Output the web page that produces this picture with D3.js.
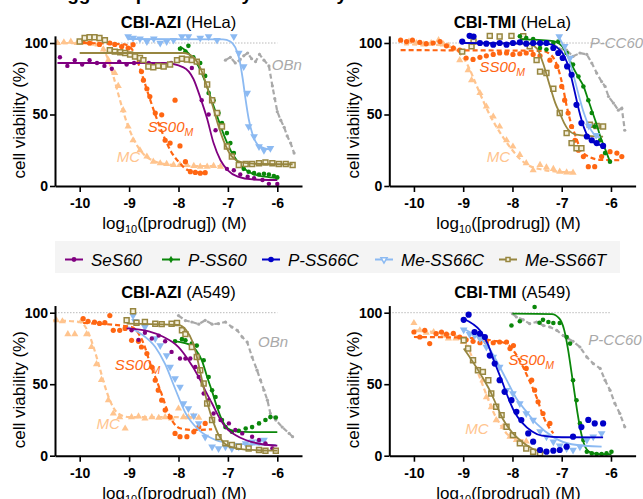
<!DOCTYPE html>
<html>
<head>
<meta charset="utf-8">
<script src="https://cdn.jsdelivr.net/npm/d3@7"></script>
<style>
  body { margin: 0; background: #fff; }
  svg { display: block; font-family: "Liberation Sans", Arial, Helvetica, sans-serif; }
</style>
</head>
<body>
<svg id="chart" width="643" height="499"></svg>
<script>
// ---- axis / text values ----
const xTicks = [-10, -9, -8, -7, -6];
const yTicks = [0, 50, 100];
const legendNames = ['SeS60', 'P-SS60', 'P-SS66C', 'Me-SS66C', 'Me-SS66T'];

// ---- CBI-AZI (HeLa) ----
const helaAziSeS60 = [[-10.4,90],[-10.25,84],[-10.1,88],[-9.95,85],[-9.8,88],[-9.65,86],[-9.5,84],[-9.35,82],[-9.2,87],[-9.05,85],[-8.9,86],[-8.75,87],[-8.6,86],[-8.45,85],[-8.3,85],[-8.15,86],[-7.73,82.5],[-7.53,60],[-7.39,50],[-7.25,39],[-7.02,12],[-6.88,11],[-6.75,8],[-6.6,6.5],[-6.47,5.4],[-6.3,4.2],[-6.17,1.5],[-6.0,1.4]];
const helaAziSeS60Fit = [[-10.45,86],[-8.3,86],[-7.9,83],[-7.7,75],[-7.56,62],[-7.42,47],[-7.29,30],[-7.15,18],[-7.0,11],[-6.8,6.5],[-6.5,4.6],[-6.0,4.2]];
const helaAziPSS60 = [[-7.97,96],[-7.86,94],[-7.8,98],[-7.7,90],[-7.56,86],[-7.46,77],[-7.39,65],[-7.29,60],[-7.19,51],[-7.12,44],[-7.02,37],[-6.95,30],[-6.88,23],[-6.78,16],[-6.68,12],[-6.58,10],[-6.47,9],[-6.37,8],[-6.27,8.5],[-6.17,8],[-6.07,7],[-6.0,6]];
const helaAziPSS60Fit = [[-7.97,97.5],[-7.8,93],[-7.6,84],[-7.45,72],[-7.3,57],[-7.2,47],[-7.05,33],[-6.9,22],[-6.7,13],[-6.5,8.5],[-6.25,6.5],[-6.0,5.5]];
const helaAziMeSS66C = [[-9.02,104.5],[-8.92,103.5],[-8.78,103],[-8.64,101],[-8.5,103],[-8.37,100],[-8.24,101],[-8.1,102],[-7.93,104.5],[-7.8,104.5],[-7.56,103.5],[-7.39,104.5],[-7.22,102],[-6.88,104.5],[-6.78,93],[-6.68,83.6],[-6.61,65],[-6.58,41.6],[-6.47,34.6],[-6.37,27.6],[-6.27,25],[-6.14,26.4]];
const helaAziMeSS66CFit = [[-9.02,102.8],[-7.1,102.6],[-6.95,101],[-6.85,97],[-6.77,89],[-6.7,75],[-6.64,60],[-6.58,47],[-6.5,36],[-6.4,29],[-6.27,26.5],[-6.14,25.5]];
const helaAziMeSS66T = [[-10,101],[-9.9,103.5],[-9.8,104],[-9.7,104],[-9.6,103.5],[-9.49,102],[-9.39,95],[-9.29,94],[-9.18,93.5],[-9.08,93],[-8.98,92],[-8.88,90.6],[-8.78,89.5],[-8.71,88],[-8.61,83.6],[-8.51,83],[-8.41,84],[-8.3,83.6],[-8.17,85],[-8.03,88],[-7.93,89],[-7.83,88.5],[-7.73,88],[-7.63,87],[-7.53,80],[-7.42,71],[-7.32,60],[-7.22,51],[-7.12,41.6],[-7.02,27.6],[-6.92,20.6],[-6.78,14.7],[-6.64,15.4],[-6.51,15.4],[-6.37,15.9],[-6.24,16.4],[-6.1,15.9],[-5.97,15.4],[-5.83,15.4],[-5.69,14.7]];
const helaAziMeSS66TFit = [[-10,93],[-7.9,93],[-7.7,90],[-7.55,82],[-7.42,69],[-7.3,55],[-7.2,43],[-7.08,31],[-6.95,22],[-6.8,17.5],[-6.5,15.6],[-5.69,15.2]];
const helaAziSS00M = [[-9.94,101],[-9.8,100],[-9.6,99],[-9.39,100],[-9.29,99],[-9.15,97.5],[-9.02,96.5],[-8.92,98.8],[-8.75,80],[-8.71,74],[-8.64,68],[-8.58,62.6],[-8.47,51],[-8.34,49.8],[-8.27,32],[-8.17,30],[-8.07,60],[-7.97,28],[-7.86,17],[-7.76,10],[-7.66,9.5],[-7.56,9],[-7.46,9.3]];
const helaAziSS00MFit = [[-9.94,100],[-9.1,99],[-8.95,96],[-8.85,89],[-8.72,76],[-8.58,61],[-8.45,48],[-8.3,35],[-8.15,24],[-8.0,17],[-7.8,11],[-7.46,9]];
const helaAziMC = [[-10.45,100],[-10.32,100.5],[-10.18,101],[-10.05,100],[-9.9,100.5],[-9.76,99.5],[-9.63,99],[-9.52,95.5],[-9.42,88],[-9.29,79],[-9.22,70],[-9.12,53],[-9.02,41.6],[-8.92,32],[-8.78,25],[-8.64,20.6],[-8.51,17],[-8.37,15.9],[-8.24,15.4],[-8.1,14.7],[-7.97,14.7],[-7.83,14.7],[-7.69,14],[-7.56,13.5],[-7.42,13.5],[-7.29,14],[-7.15,13.5]];
const helaAziMCFit = [[-10.5,100],[-9.7,99.5],[-9.55,97],[-9.43,89],[-9.32,77],[-9.2,62],[-9.1,50],[-9.0,40],[-8.85,29],[-8.7,22],[-8.5,17.5],[-8.2,15],[-7.8,14],[-7.15,14]];
const helaAziOBn = [[-7.05,88],[-6.95,90],[-6.85,86],[-6.76,88],[-6.68,91],[-6.6,93],[-6.52,89],[-6.44,87],[-6.36,92],[-6.27,88],[-6.17,84],[-6.1,70],[-6.05,61],[-6.0,52],[-5.93,46],[-5.86,41],[-5.8,35],[-5.73,30],[-5.66,23]];

// ---- CBI-TMI (HeLa) ----
const helaTmiPSS66C = [[-9.02,101],[-8.87,105],[-8.79,104.5],[-8.66,100],[-8.53,99.5],[-8.39,98.8],[-8.26,100],[-8.12,98.8],[-7.99,100],[-7.85,100.5],[-7.72,99.5],[-7.58,100],[-7.44,100],[-7.31,100],[-7.17,96.5],[-7.07,93],[-6.98,89.5],[-6.89,83.6],[-6.8,77.8],[-6.7,56.8],[-6.6,44],[-6.49,34.6],[-6.39,32],[-6.29,30],[-6.16,28]];
const helaTmiPSS66CFit = [[-9.02,100],[-7.3,99.5],[-7.1,97],[-6.95,91],[-6.85,82],[-6.75,68],[-6.65,53],[-6.55,41],[-6.45,33.5],[-6.3,29.5],[-6.15,28.3]];
const helaTmiPSS60 = [[-7.85,104.7],[-7.72,103.5],[-7.58,102.8],[-7.44,96.5],[-7.31,95.5],[-7.17,100],[-7.07,101],[-6.9,93],[-6.77,85],[-6.66,76.6],[-6.56,69.6],[-6.46,60],[-6.39,51],[-6.33,41.6],[-6.22,32],[-6.12,23],[-6.02,17]];
const helaTmiPSS60Fit = [[-7.85,102.5],[-7.2,101.5],[-7.0,98],[-6.88,91],[-6.77,83],[-6.66,76],[-6.56,70],[-6.47,61],[-6.39,53],[-6.3,44],[-6.22,35],[-6.12,26],[-6.02,17]];
const helaTmiMeSS66C = [[-7.05,104.5],[-6.94,97.7],[-6.83,89.5],[-6.45,42],[-6.3,35.5]];
const helaTmiMeSS66CFit = [[-7.07,105],[-6.95,97],[-6.85,88],[-6.75,76],[-6.65,63],[-6.55,51],[-6.45,42],[-6.35,36.5],[-6.22,34]];
const helaTmiMeSS66T = [[-9.02,94],[-8.83,97.7],[-8.79,101],[-8.46,105],[-8.26,104.5],[-8.02,105],[-7.78,104.7],[-7.65,97.7],[-7.51,88],[-7.44,80],[-7.31,79],[-7.17,68],[-7.04,51],[-6.9,37],[-6.8,30],[-6.7,26.4],[-6.6,26.4],[-6.43,42.8],[-6.29,42],[-6.16,41.6]];
const helaTmiMeSS66TFit = [[-9.02,100],[-7.7,99.5],[-7.5,96],[-7.38,86],[-7.24,70],[-7.13,58],[-7.04,51],[-6.95,44],[-6.87,39.5],[-6.7,36],[-6.16,34.5]];
const helaTmiSS00M = [[-10.27,102],[-10.15,101],[-10.03,102],[-9.88,100.5],[-9.75,99.5],[-9.61,100],[-9.47,101],[-9.34,98],[-9.2,96.5],[-9.07,95],[-8.94,89.5],[-8.8,88.5],[-8.66,90],[-8.53,91],[-8.39,92],[-8.26,93],[-8.12,93],[-7.99,92],[-7.85,92.5],[-7.72,93],[-7.58,92],[-7.44,91],[-7.24,88],[-7.1,83.6],[-7.0,69.6],[-6.94,60],[-6.87,51],[-6.8,41.6],[-6.73,32],[-6.66,25],[-6.56,20.6],[-6.46,13.5],[-6.33,13.5],[-6.19,20.6],[-6.02,24],[-5.88,23],[-5.78,20.6]];
const helaTmiSS00MFit = [[-10.27,95],[-7.4,94.5],[-7.2,91],[-7.08,83],[-6.98,70],[-6.9,56],[-6.82,45],[-6.72,35],[-6.62,26],[-6.45,20.5],[-6.2,18.3],[-5.78,18]];
const helaTmiMC = [[-10.1,101],[-9.95,100],[-9.8,99],[-9.65,100],[-9.5,102],[-9.4,99],[-9.3,98],[-9.2,96],[-9.07,88],[-8.9,81],[-8.83,74],[-8.66,65],[-8.53,55.6],[-8.39,48.6],[-8.26,41.6],[-8.12,32],[-7.99,27.6],[-7.85,21.7],[-7.72,16],[-7.58,11],[-7.44,14.7],[-7.31,13],[-7.17,12],[-7.04,10],[-6.9,9.5],[-6.77,9.3]];
const helaTmiMCFit = [[-10.2,99],[-9.4,98.5],[-9.2,97],[-9.05,92],[-8.9,84],[-8.75,72],[-8.6,60],[-8.45,49],[-8.3,40],[-8.15,32],[-8.0,25],[-7.85,19],[-7.65,14],[-7.4,11.5],[-7.1,10],[-6.77,9.5]];
const helaTmiPCC60 = [[-7.17,99],[-7.05,96],[-6.9,95],[-6.77,90.6],[-6.63,93],[-6.49,92],[-6.39,86],[-6.29,79],[-6.19,73],[-6.12,69.6],[-6.05,62.6],[-5.95,58],[-5.85,53],[-5.78,54.4],[-5.72,39]];

// ---- CBI-AZI (A549) ----
const a549AziSeS60 = [[-8.95,87.7],[-8.81,81],[-8.68,86],[-8.54,82],[-8.4,84],[-8.27,80],[-8.14,72.6],[-7.97,68],[-7.86,68],[-7.76,68],[-7.66,62],[-7.59,55],[-7.49,43.5],[-7.39,38.8],[-7.29,29.5],[-7.15,25],[-6.98,22.6],[-6.85,18],[-6.71,15.6],[-6.51,13.3],[-6.37,11],[-6.24,8.6],[-6.1,5],[-6.03,3.5]];
const a549AziSeS60Fit = [[-9.05,89],[-8.6,87],[-8.3,83],[-8.0,76],[-7.8,67],[-7.59,55],[-7.45,45],[-7.32,36.5],[-7.18,27],[-7.05,20],[-6.85,14.5],[-6.64,11],[-6.3,8],[-6.0,7]];
const a549AziPSS60 = [[-8.07,80],[-7.93,81.5],[-7.86,80.7],[-7.73,78.4],[-7.63,77],[-7.49,66.7],[-7.39,55],[-7.32,45.8],[-7.25,41],[-7.19,34],[-7.12,25],[-7.05,20],[-6.92,16.7],[-6.78,17.5],[-6.64,19],[-6.51,20],[-6.37,22.6],[-6.24,25],[-6.14,27],[-6.03,26.7]];
const a549AziPSS60Fit = [[-8.07,80],[-7.8,78],[-7.65,74],[-7.52,66],[-7.42,55],[-7.32,45],[-7.22,34],[-7.12,25],[-7.0,19],[-6.85,17],[-6.5,16.5],[-6.0,16.5]];
const a549AziMeSS66C = [[-8.92,98],[-8.88,94],[-8.68,90],[-8.47,82],[-8.37,77],[-8.24,70],[-8.17,62],[-8.07,54],[-7.97,48],[-7.9,36.5],[-7.8,33],[-7.69,28],[-7.59,22.6],[-7.46,13],[-7.32,6.3],[-7.19,5],[-7.05,6.3],[-6.92,5],[-6.78,6.3],[-6.64,8.6],[-6.51,9.8],[-6.37,9.8],[-6.27,11]];
const a549AziMeSS66CFit = [[-9.02,90],[-8.75,85],[-8.47,76],[-8.27,64],[-8.07,47],[-7.86,30],[-7.59,18],[-7.25,11],[-6.92,8.6],[-6.58,8],[-6.03,7.5]];
const a549AziMeSS66T = [[-9.05,94.7],[-8.92,101],[-8.85,93],[-8.68,93.5],[-8.47,92.3],[-8.34,92],[-8.14,92.3],[-8.03,92.8],[-7.93,87.7],[-7.86,85],[-7.73,76],[-7.63,69],[-7.56,59.8],[-7.49,50.5],[-7.42,36.5],[-7.32,25],[-7.19,13],[-7.05,8.6],[-6.92,7.5],[-6.78,6.3],[-6.58,5],[-6.37,4],[-6.24,3.5],[-6.03,3.5]];
const a549AziMeSS66TFit = [[-9.05,92.3],[-8.0,91.4],[-7.85,88],[-7.72,80],[-7.62,68],[-7.55,57],[-7.48,46],[-7.4,35],[-7.3,24],[-7.18,14],[-7.05,8],[-6.8,5],[-6.4,3.8],[-6.0,3.5]];
const a549AziSS00M = [[-9.93,95.8],[-9.83,94],[-9.7,93.5],[-9.6,92.5],[-9.49,93],[-9.39,98],[-9.32,87.7],[-9.19,87.7],[-9.08,89],[-8.95,80.7],[-8.81,80],[-8.75,76],[-8.64,71.4],[-8.54,62],[-8.47,52.8],[-8.41,45.8],[-8.34,38.8],[-8.27,31.9],[-8.17,27],[-8.07,15.6],[-7.97,13.3],[-7.83,13.3],[-7.69,16.7],[-7.59,20],[-7.46,22.6]];
const a549AziSS00MFit = [[-9.93,92.8],[-8.95,90],[-8.8,85],[-8.68,76],[-8.58,65],[-8.47,55],[-8.34,43],[-8.22,31],[-8.1,23],[-7.95,19],[-7.7,18],[-7.32,18.5]];
const a549AziMC = [[-10.47,94.7],[-10.35,94],[-10.24,85],[-10.1,85],[-9.97,94],[-9.86,85],[-9.76,76],[-9.66,64],[-9.56,53],[-9.42,38.8],[-9.32,29.5],[-9.19,27],[-9.08,19],[-8.95,27],[-8.81,27.5],[-8.68,26],[-8.54,27],[-8.4,26.5],[-8.27,27],[-8.14,26],[-8.0,33],[-7.9,27],[-7.8,27],[-7.7,27.5],[-7.59,26.5]];
const a549AziMCFit = [[-10.54,94.7],[-10.0,93.5],[-9.85,88],[-9.72,76],[-9.6,62],[-9.49,48.6],[-9.38,38],[-9.22,29.5],[-9.0,27],[-8.5,27],[-7.59,27]];
const a549AziOBn = [[-8.0,98],[-7.86,94.5],[-7.73,93.5],[-7.59,92],[-7.46,94.7],[-7.32,92],[-7.19,92.3],[-7.05,93.5],[-6.92,90],[-6.81,87.7],[-6.71,83],[-6.61,79.5],[-6.51,69],[-6.41,59.8],[-6.34,52.8],[-6.27,45.8],[-6.2,38.8],[-6.14,29.5],[-6.03,24.9],[-5.9,20],[-5.76,15.6],[-5.69,13.3]];

// ---- CBI-TMI (A549) ----
const a549TmiPSS66C = [[-8.99,95],[-8.89,98.6],[-8.77,86.5],[-8.66,85.3],[-8.56,83],[-8.46,70],[-8.36,64.4],[-8.26,52.8],[-8.16,44.7],[-8.02,38.8],[-7.92,30.7],[-7.82,24.9],[-7.68,15.6],[-7.58,9.8],[-7.44,4],[-7.31,2.8],[-7.17,3.5],[-7.04,4],[-6.9,6.3],[-6.77,13.3],[-6.6,20],[-6.46,25],[-6.33,22.6],[-6.16,22.6]];
const a549TmiPSS66CFit = [[-8.99,95.8],[-8.8,92],[-8.66,87.7],[-8.5,78],[-8.36,65],[-8.22,52.8],[-8.08,40],[-7.95,30],[-7.8,23],[-7.6,17],[-7.4,14],[-7.0,12.9],[-6.16,12.8]];
const a549TmiPSS60 = [[-8.02,91],[-7.85,94],[-7.55,104],[-7.45,93],[-7.38,95],[-7.27,93.5],[-7.17,92.8],[-7.04,92.8],[-6.9,83],[-6.83,78.4],[-6.77,52.8],[-6.7,38.8],[-6.63,22.6],[-6.56,11],[-6.49,2.8],[-6.39,1.6],[-6.29,1.2],[-6.19,1.2],[-6.09,1.6],[-5.99,2.8]];
const a549TmiPSS60Fit = [[-8.0,99.3],[-7.2,99],[-7.05,96],[-6.95,88],[-6.87,74],[-6.8,58],[-6.74,44],[-6.68,30],[-6.6,15],[-6.52,6],[-6.4,2],[-6.2,1],[-5.99,1]];
const a549TmiMeSS66C = [[-8.99,88],[-8.87,85],[-8.77,84],[-8.66,82],[-8.53,76],[-8.39,69],[-8.26,62],[-8.12,45.8],[-7.99,43.5],[-7.85,36.5],[-7.72,29.5],[-7.58,24.9],[-7.44,17],[-7.31,13.3],[-7.17,9.8],[-7.04,7],[-6.9,5],[-6.77,4],[-6.63,6.3],[-6.49,11],[-6.36,13.3],[-6.19,15.6]];
const a549TmiMeSS66CFit = [[-8.99,88.8],[-8.75,84],[-8.53,78],[-8.35,68],[-8.12,53],[-7.92,40],[-7.72,31],[-7.5,22],[-7.17,13],[-6.8,8],[-6.19,6.3]];
const a549TmiMeSS66T = [[-8.99,80.7],[-8.9,75],[-8.8,66.7],[-8.7,59.8],[-8.6,58.6],[-8.49,52.8],[-8.43,43.5],[-8.33,34.2],[-8.22,28.4],[-8.12,20.2],[-7.99,14.4],[-7.85,8.6],[-7.72,5],[-7.58,2.8],[-7.44,1.6]];
const a549TmiMeSS66TFit = [[-8.99,75],[-8.85,68],[-8.7,60],[-8.58,53],[-8.45,45],[-8.32,35],[-8.2,26],[-8.0,16],[-7.85,11],[-7.6,5],[-7.31,2]];
const a549TmiSS00M = [[-10,86.5],[-9.88,83],[-9.78,87.7],[-9.68,78.4],[-9.55,85.3],[-9.44,86.5],[-9.34,85],[-9.2,85.5],[-9.07,83],[-8.94,81],[-8.8,80],[-8.66,79],[-8.53,79.5],[-8.39,79],[-8.26,79.5],[-8.12,79.5],[-8.05,74.9],[-7.98,77],[-7.72,61],[-7.61,52.8],[-7.55,45.8],[-7.48,37.7],[-7.38,29.5],[-7.24,22.6]];
const a549TmiSS00MFit = [[-10,83],[-8.9,82.5],[-8.4,80.5],[-8.12,78.4],[-7.95,72],[-7.8,63],[-7.65,52],[-7.5,40],[-7.38,28],[-7.26,20],[-7.17,15.6]];
const a549TmiMC = [[-10,92.8],[-9.88,87.7],[-9.75,86],[-9.6,86.5],[-9.41,84],[-9.3,82],[-9.15,82],[-9.0,79.5],[-8.9,75],[-8.8,66.7],[-8.7,59.8],[-8.6,52.8],[-8.53,41],[-8.43,34],[-8.33,24.9],[-8.19,20.2],[-8.05,13.3],[-7.92,11],[-7.72,10]];
const a549TmiMCFit = [[-10,87.7],[-9.4,85.5],[-9.07,83],[-8.95,78],[-8.82,69],[-8.7,58],[-8.6,49],[-8.5,40],[-8.38,30],[-8.25,22],[-8.12,15.6],[-7.95,12],[-7.72,10.5]];
const a549TmiPCC60 = [[-8.0,99.3],[-7.92,97],[-7.78,95],[-7.65,92.3],[-7.51,93.5],[-7.37,91],[-7.24,90],[-7.1,87.7],[-6.97,84],[-6.87,81.9],[-6.77,80],[-6.63,76],[-6.49,69],[-6.36,64.4],[-6.22,61],[-6.12,52.8],[-6.02,45.8],[-5.92,36.5],[-5.82,29.5],[-5.72,20.2]];

// ---- look of each compound ----
const styles = {
  'SeS60':    { color: '#800080', marker: 'circle', size: 2.2 },
  'P-SS60':   { color: '#0a870a', marker: 'circle', size: 2.3 },
  'P-SS66C':  { color: '#0000c8', marker: 'circle', size: 3.1 },
  'Me-SS66C': { color: '#8cbaf2', marker: 'triDown', size: 26 },
  'Me-SS66T': { color: '#978640', marker: 'square', size: 24 },
  'SS00M':    { color: '#ff6612', marker: 'circle', size: 2.6, dashed: true },
  'MC':       { color: '#ffc48e', marker: 'triUp', size: 22, dashed: true },
  'gray':     { color: '#a9a9a9', marker: 'circle', size: 1.6, dashed: true }
};
// smaller markers used in the legend key
const legendMarker = {
  'SeS60':    { marker: 'circle', size: 2.4 },
  'P-SS60':   { marker: 'diamond', size: 16 },
  'P-SS66C':  { marker: 'circle', size: 2.8 },
  'Me-SS66C': { marker: 'triDownOpen', size: 16 },
  'Me-SS66T': { marker: 'square', size: 16 }
};

const svg = d3.select('#chart');
const font = '"Liberation Sans", Arial, Helvetica, sans-serif';

// partially cropped figure heading
svg.append('text')
  .attr('x', 44).attr('y', 0)
  .attr('font-size', 19).attr('font-weight', 'bold')
  .text('Triggered potencies by cell assay');

const panels = [
  { title: 'CBI-AZI', cell: '(HeLa)', left: 55, right: 302, bottom: 186,
    ref: { name: 'OBn', data: helaAziOBn, label: [-6.11, 81] },
    mc: [helaAziMC, helaAziMCFit, [-9.25, 16.8]],
    ss00: [helaAziSS00M, helaAziSS00MFit, [-8.62, 37.8]],
    series: [['SeS60', helaAziSeS60, helaAziSeS60Fit], ['Me-SS66C', helaAziMeSS66C, helaAziMeSS66CFit],
             ['P-SS60', helaAziPSS60, helaAziPSS60Fit], ['Me-SS66T', helaAziMeSS66T, helaAziMeSS66TFit]] },
  { title: 'CBI-TMI', cell: '(HeLa)', left: 389.3, right: 635.6, bottom: 186,
    ref: { name: 'P-CC60', data: helaTmiPCC60, label: [-6.43, 96.4] },
    mc: [helaTmiMC, helaTmiMCFit, [-8.52, 16.8]],
    ss00: [helaTmiSS00M, helaTmiSS00MFit, [-8.67, 79.9]],
    series: [['Me-SS66T', helaTmiMeSS66T, helaTmiMeSS66TFit], ['P-SS60', helaTmiPSS60, helaTmiPSS60Fit],
             ['Me-SS66C', helaTmiMeSS66C, helaTmiMeSS66CFit], ['P-SS66C', helaTmiPSS66C, helaTmiPSS66CFit]] },
  { title: 'CBI-AZI', cell: '(A549)', left: 55, right: 302, bottom: 455.7,
    ref: { name: 'OBn', data: a549AziOBn, label: [-6.39, 75.8] },
    mc: [a549AziMC, a549AziMCFit, [-9.66, 19]],
    ss00: [a549AziSS00M, a549AziSS00MFit, [-9.29, 59.8]],
    series: [['Me-SS66C', a549AziMeSS66C, a549AziMeSS66CFit], ['P-SS60', a549AziPSS60, a549AziPSS60Fit],
             ['SeS60', a549AziSeS60, a549AziSeS60Fit], ['Me-SS66T', a549AziMeSS66T, a549AziMeSS66TFit]] },
  { title: 'CBI-TMI', cell: '(A549)', left: 389.3, right: 635.6, bottom: 455.7,
    ref: { name: 'P-CC60', data: a549TmiPCC60, label: [-6.46, 77.2] },
    mc: [a549TmiMC, a549TmiMCFit, [-8.96, 15.5]],
    ss00: [a549TmiSS00M, a549TmiSS00MFit, [-8.08, 63.2]],
    series: [['P-SS60', a549TmiPSS60, a549TmiPSS60Fit], ['Me-SS66T', a549TmiMeSS66T, a549TmiMeSS66TFit],
             ['Me-SS66C', a549TmiMeSS66C, a549TmiMeSS66CFit], ['P-SS66C', a549TmiPSS66C, a549TmiPSS66CFit]] }
];

const pxPerUnit = 1.43; // vertical pixels per % viability

function symbolPath(kind, size) {
  if (kind.startsWith('tri')) return d3.symbol(d3.symbolTriangle, size)();
  if (kind === 'square') return d3.symbol(d3.symbolSquare, size)();
  if (kind === 'diamond') return d3.symbol(d3.symbolDiamond, size)();
  return null;
}

function drawPoints(g, pts, st, x, y) {
  if (st.marker === 'circle') {
    g.selectAll(null).data(pts).join('circle')
      .attr('cx', d => x(d[0])).attr('cy', d => y(d[1]))
      .attr('r', st.size).attr('fill', st.color);
  } else {
    const rot = st.marker.startsWith('triDown') ? ' rotate(180)' : '';
    const open = st.marker === 'square' || st.marker === 'triDownOpen';
    g.selectAll(null).data(pts).join('path')
      .attr('d', symbolPath(st.marker, st.size))
      .attr('transform', d => `translate(${x(d[0])},${y(d[1])})${rot}`)
      .attr('fill', open ? (st.marker === 'square' ? '#f4f0de' : '#fff') : st.color)
      .attr('stroke', open ? st.color : 'none')
      .attr('stroke-width', 1.5);
  }
}

function drawLine(g, pts, st, x, y, smooth) {
  const line = d3.line().x(d => x(d[0])).y(d => y(d[1]))
    .curve(smooth ? d3.curveMonotoneX : d3.curveLinear);
  g.append('path').datum(pts)
    .attr('d', line)
    .attr('fill', 'none')
    .attr('stroke', st.color)
    .attr('stroke-width', st.dashed ? 2.2 : 1.8)
    .attr('stroke-dasharray', st.dashed ? '5,3' : null);
}

function label(g, x, y, pos, text, color, sub) {
  const t = g.append('text')
    .attr('x', x(pos[0])).attr('y', y(pos[1]))
    .attr('fill', color).attr('font-size', 15).attr('font-style', 'italic')
    .text(text);
  if (sub) t.append('tspan').attr('font-size', 10.5).attr('dy', 4).text(sub);
}

panels.forEach(p => {
  const g = svg.append('g');
  const x = d3.scaleLinear().domain([-10.5, -5.5]).range([p.left, p.right]);
  const y = d3.scaleLinear().domain([0, 105]).range([p.bottom, p.bottom - 105 * pxPerUnit]);

  // 100 % reference
  g.append('line')
    .attr('x1', p.left).attr('x2', x(-6))
    .attr('y1', y(100)).attr('y2', y(100))
    .attr('stroke', '#a8a8a8').attr('stroke-width', 0.8).attr('stroke-dasharray', '1.5,1.5');

  // gray comparison compound
  const gs = styles.gray;
  drawLine(g, p.ref.data, gs, x, y, false);
  drawPoints(g, p.ref.data, gs, x, y);

  // MC and SS00M dashed
  drawLine(g, p.mc[1], styles.MC, x, y, true);
  drawPoints(g, p.mc[0], styles.MC, x, y);
  drawLine(g, p.ss00[1], styles.SS00M, x, y, true);
  drawPoints(g, p.ss00[0], styles.SS00M, x, y);

  p.series.forEach(([name, pts, fit]) => {
    const st = styles[name];
    drawPoints(g, pts, st, x, y);
    drawLine(g, fit, st, x, y, true);
  });

  label(g, x, y, p.ref.label, p.ref.name, gs.color);
  label(g, x, y, p.ss00[2], 'SS00', styles.SS00M.color, 'M');
  label(g, x, y, p.mc[2], 'MC', styles.MC.color);

  // axes
  const yAxis = g.append('g')
    .attr('transform', `translate(${p.left},0)`)
    .call(d3.axisLeft(y).tickValues(yTicks).tickSize(5).tickPadding(2).tickSizeOuter(0));
  const xAxis = g.append('g')
    .attr('transform', `translate(0,${p.bottom})`)
    .call(d3.axisBottom(x).tickValues(xTicks).tickSize(6).tickPadding(6).tickSizeOuter(0)
      .tickFormat(d => d));
  [yAxis, xAxis].forEach(a => {
    a.select('.domain').attr('stroke-width', 2);
    a.selectAll('.tick line').attr('stroke-width', 1.6);
    a.selectAll('text').attr('font-size', 14).attr('font-weight', 'bold')
      .attr('font-family', font).attr('fill', '#000');
  });

  // titles
  const cx = (p.left + p.right) / 2;
  const tt = g.append('text').attr('x', cx).attr('y', p.bottom - 157.7)
    .attr('text-anchor', 'middle').attr('font-size', 16.5);
  tt.append('tspan').attr('font-weight', 'bold').text(p.title + ' ');
  tt.append('tspan').text(p.cell);

  const xl = g.append('text').attr('x', cx - 4).attr('y', p.bottom + 43)
    .attr('text-anchor', 'middle').attr('font-size', 17);
  xl.append('tspan').text('log');
  xl.append('tspan').attr('font-size', 11).attr('dy', 4).text('10');
  xl.append('tspan').attr('dy', -4).text('([prodrug]) (M)');

  g.append('text')
    .attr('transform', `translate(${p.left - 30},${p.bottom - 66}) rotate(-90)`)
    .attr('text-anchor', 'middle').attr('font-size', 17)
    .text('cell viability (%)');
});

// legend
const legendX = [65, 162, 262, 375, 499];
const lg = svg.append('g');
lg.append('rect').attr('x', 55).attr('y', 241).attr('width', 565).attr('height', 32)
  .attr('fill', '#f4f4f4');
legendNames.forEach((name, i) => {
  const st = Object.assign({}, styles[name], legendMarker[name]);
  const x0 = legendX[i], yy = 259.5;
  lg.append('line').attr('x1', x0).attr('x2', x0 + 18).attr('y1', yy).attr('y2', yy)
    .attr('stroke', st.color).attr('stroke-width', 2);
  const kx = d3.scaleLinear().domain([0, 1]).range([x0 + 9, x0 + 10]);
  const ky = d3.scaleLinear().domain([0, 1]).range([yy, yy + 1]);
  drawPoints(lg.append('g'), [[0, 0]], st, kx, ky);
  lg.append('text').attr('x', x0 + 26).attr('y', yy + 6)
    .attr('font-size', 17).attr('font-style', 'italic').text(name);
});
</script>
</body>
</html>
